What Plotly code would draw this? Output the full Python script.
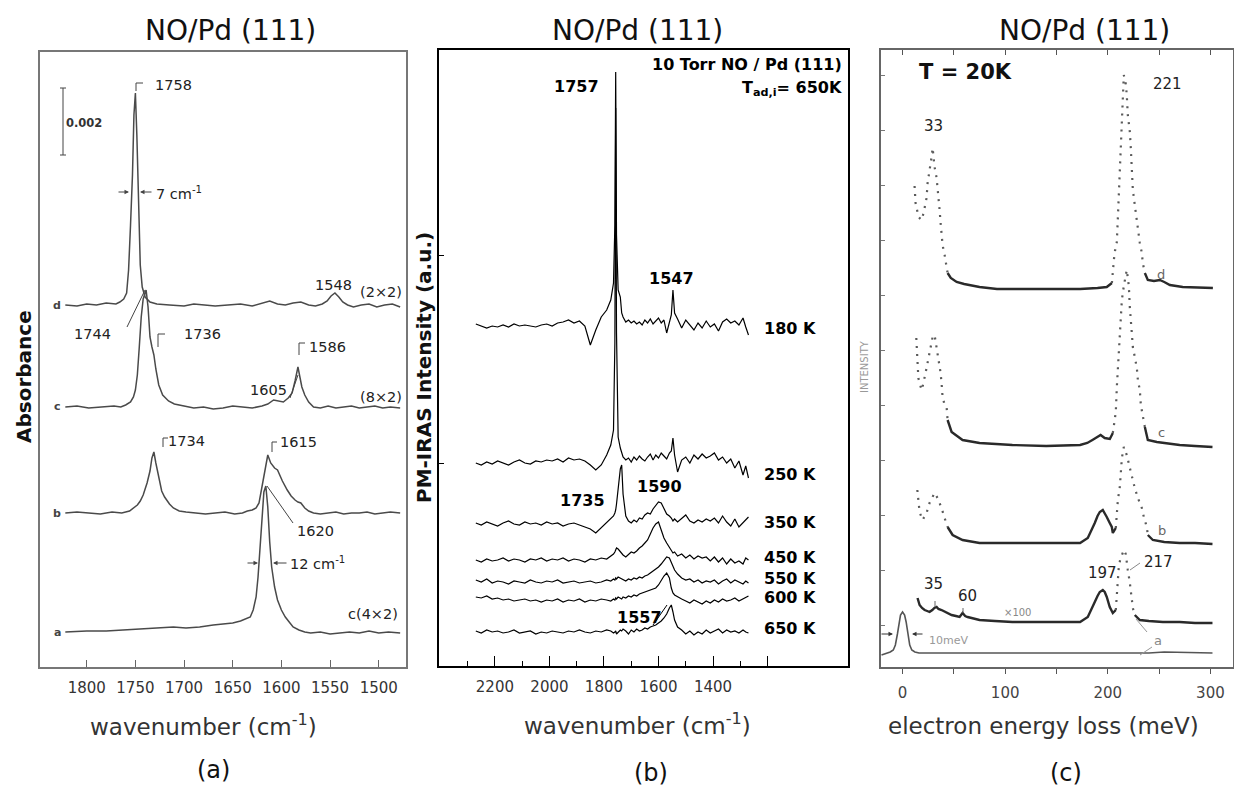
import plotly.graph_objects as go

W, H = 1234, 788
FONT = "DejaVu Sans"

# ================= DATA =================
# ---- Panel (a): IRAS absorbance (arb. units) vs wavenumber (cm-1)
a_d_wn = [1822, 1810, 1800, 1790, 1780, 1770, 1766, 1762, 1759, 1757, 1755, 1753, 1751.5, 1750, 1748.5,
          1747, 1745, 1743, 1740, 1735, 1728, 1715, 1700, 1690, 1680, 1668, 1655, 1642, 1630, 1620,
          1612, 1604, 1596, 1588, 1580, 1572, 1565, 1558, 1553, 1549, 1545, 1541, 1537, 1532, 1526,
          1518, 1510, 1502, 1494, 1486, 1478]
a_d_abs = [0, -1, 1, 0, 2, 1, 3, 6, 12, 35, 80, 130, 190, 212, 170,
           100, 40, 18, 8, 3, 1, 0, -1, 1, 0, -1, 0, 1, -1, 2,
           4, 1, 0, 2, 3, 0, -1, 1, 4, 9, 12, 8, 3, 0, -2,
           0, 1, -2, 0, 1, -2]

a_c_wn = [1822, 1810, 1798, 1785, 1772, 1765, 1760, 1755, 1752, 1750, 1748, 1746, 1744, 1742, 1740,
          1739, 1737, 1735, 1733, 1731, 1729, 1726, 1722, 1716, 1710, 1700, 1690, 1680, 1670, 1660,
          1650, 1640, 1630, 1620, 1614, 1608, 1603, 1598, 1593, 1589, 1586, 1584, 1583, 1581, 1579,
          1576, 1572, 1567, 1560, 1552, 1544, 1536, 1528, 1520, 1512, 1504, 1496, 1488, 1478]
a_c_abs = [0, 1, -1, 0, 1, 0, 2, 5, 10, 17, 32, 60, 90, 108, 116,
           117, 100, 70, 60, 52, 38, 22, 12, 6, 3, 1, -1, 0, -2, -1,
           1, 0, -1, 1, 3, 7, 6, 5, 9, 14, 26, 37, 40, 30, 20,
           12, 5, 0, -1, 1, -1, 0, 1, -1, 0, 1, -1, 0, -1]

a_b_wn = [1822, 1810, 1798, 1786, 1774, 1764, 1756, 1752, 1748, 1745, 1742, 1738, 1735, 1733, 1731,
          1729, 1726, 1723, 1720, 1715, 1711, 1705, 1698, 1688, 1678, 1668, 1658, 1648, 1640, 1635,
          1630, 1626, 1623, 1620, 1617, 1614, 1611, 1607, 1604, 1599, 1594, 1590, 1586, 1583, 1580,
          1576, 1572, 1567, 1560, 1552, 1544, 1536, 1528, 1520, 1512, 1504, 1496, 1488, 1478]
a_b_abs = [0, 1, 0, -1, 1, 0, 2, 5, 8, 12, 18, 30, 42, 55, 61,
           50, 36, 22, 16, 9, 5, 2, 1, 0, -1, 0, 1, -1, 0, 2,
           3, 5, 10, 26, 44, 58, 50, 45, 43, 32, 23, 17, 13, 11, 10,
           5, 2, 0, -1, 0, 1, -1, 0, 0, 1, -1, 0, 1, 0]

a_a_wn = [1822, 1800, 1780, 1760, 1740, 1725, 1711, 1698, 1684, 1670, 1660, 1650, 1642, 1636, 1632,
          1629, 1626, 1624, 1622, 1620, 1618, 1616, 1614, 1612, 1610, 1607, 1604, 1600, 1596, 1592,
          1588, 1582, 1576, 1570, 1560, 1550, 1540, 1530, 1520, 1510, 1500, 1490, 1478]
a_a_abs = [0, 1, 1, 2, 3, 4, 5, 4, 5, 7, 8, 9, 11, 13, 15,
           22, 35, 55, 85, 118, 140, 146, 125, 90, 65, 45, 32, 22, 15, 10,
           5, 2, 0, -1, 0, -2, -1, 0, -1, 1, -1, 0, -1]

a_ticks = [1800, 1750, 1700, 1650, 1600, 1550, 1500]

# ---- Panel (b): PM-IRAS intensity (a.u.) vs wavenumber (cm-1)
b_wn = [2270, 2250, 2230, 2210, 2190, 2170, 2150, 2130, 2110, 2090, 2070, 2050, 2030, 2010, 1990,
        1970, 1950, 1930, 1910, 1890, 1870, 1850, 1830, 1810, 1790, 1775, 1765, 1760, 1757, 1754,
        1748, 1740, 1735, 1730, 1720, 1710, 1700, 1690, 1680, 1670, 1660, 1650, 1640, 1630, 1620,
        1610, 1600, 1590, 1580, 1570, 1560, 1553, 1547, 1541, 1530, 1515, 1500, 1485, 1470, 1455,
        1440, 1425, 1410, 1395, 1380, 1365, 1350, 1335, 1320, 1305, 1290, 1280, 1270]
b_180K = [1, -1, -3, -1, -2, 0, -2, 1, -1, 0, -1, -2, 0, 1, -1,
          2, 3, 5, 2, 4, -1, -20, -5, 8, 15, 25, 42, 100, 253, 90,
          35, 28, 12, 8, 3, 5, 2, 4, 1, 3, 0, 5, 2, 6, 1,
          4, 7, 2, 5, -8, 3, 10, 35, 12, 6, -3, 5, 0, -5, 2,
          -3, 4, -2, 1, -6, 3, 6, 2, 4, 0, 7, -2, -10]
b_250K = [0, -2, 1, -1, 2, 0, -2, 1, 3, 0, -1, 2, 1, 3, 2,
          4, 1, 5, 3, 4, 2, -2, -7, -2, 8, 18, 33, 120, 355, 130,
          26, 15, 11, 6, 3, 5, 1, 6, 3, 7, 4, 2, 6, 9, 3,
          8, 5, 10, 7, 4, 10, 12, 25, 8, -9, 3, 6, 0, 8, 4,
          9, 5, 7, 10, 3, 6, 0, 4, -5, 2, -12, -3, -15]
b_350K = [1, -1, 2, 0, -2, 1, 3, 0, -1, 2, 0, 1, -1, 2, 0,
          1, -2, 0, 1, -1, -3, -5, -9, -4, 1, 5, 8, 11, 14, 20,
          35, 55, 59, 30, 8, 3, 1, 4, 2, 6, 5, 9, 11, 10, 15,
          19, 22, 21, 15, 10, 8, 6, 3, 5, 2, 6, 9, 3, 1, 4,
          2, 5, 3, 6, 1, 8, 2, -2, 5, -3, 1, 4, 7]
b_450K = [0, -2, 1, -1, 0, 2, -1, 1, 0, -2, 1, 0, 2, -1, 1,
          0, 2, -1, 1, 0, -2, 1, 0, 2, 1, 4, 6, 8, 10, 12,
          11, 8, 6, 5, 3, 6, 8, 7, 9, 12, 14, 17, 20, 26, 32,
          36, 38, 30, 22, 17, 12, 9, 7, 8, 4, 6, 2, 5, 1, 4,
          2, 3, -1, 3, -2, 2, -4, 1, -3, -1, -4, 2, 0]
b_550K = [2, 0, 3, -1, 1, 0, -2, 1, 0, -1, 2, 0, -1, 1, 0,
          2, -1, 0, 1, -1, 0, 1, -1, 0, 2, 1, 3, 2, 4, 3,
          5, 4, 3, 2, 1, 3, 2, 4, 3, 5, 4, 6, 7, 9, 11,
          13, 15, 18, 22, 25, 24, 19, 15, 12, 8, 4, 2, 3, 0, 2,
          -1, 1, 0, 2, -2, 1, 3, -1, 2, 0, -2, 1, -1]
b_600K = [3, 2, 4, 1, 2, 0, 1, -1, 0, 1, -1, 0, -2, 0, -1,
          1, -2, 0, -1, 1, -2, 0, -1, 1, 0, -1, 1, 0, 2, 1,
          3, 2, 1, 3, 2, 4, 3, 5, 4, 6, 7, 8, 9, 10, 11,
          12, 15, 20, 24, 27, 22, 12, 7, 5, 3, 1, -1, -3, 0, -2,
          -4, -1, -3, 0, -2, 1, -1, 0, 2, -1, 1, 3, 4]
b_650K = [1, -1, 2, 0, 1, -1, 0, 2, -1, 0, 1, -2, 0, -1, 1,
          0, -1, 1, 0, 2, 0, -1, 1, 0, 2, 1, -1, 0, 1, -2,
          0, 2, 1, 3, 1, -2, 2, 0, 3, 1, 2, 4, 3, 5, 6,
          7, 9, 11, 14, 18, 24, 27, 20, 12, 5, 2, -2, 1, -3, 0,
          -2, 2, -1, 1, 3, -1, 2, 0, 1, -1, 2, 0, -1]
b_labels = ["180 K", "250 K", "350 K", "450 K", "550 K", "600 K", "650 K"]
b_series = [b_180K, b_250K, b_350K, b_450K, b_550K, b_600K, b_650K]
b_ticks = [2200, 2000, 1800, 1600, 1400, 1200]
b_ticktext = ["2200", "2000", "1800", "1600", "1400", ""]
b_minor = [2300, 2100, 1900, 1700, 1500, 1300]

# ---- Panel (c): HREELS intensity vs electron energy loss (meV)
c_d_e = [11.7, 12.7, 15.6, 18.5, 20.5, 23.4, 24.4, 26.3, 28.3, 29.3, 31.2, 33.2, 35.1, 36.1, 37.1,
         38.0, 39.0, 41.0, 42.0, 43.9, 47, 52.7, 60, 75, 92, 120, 150, 173, 190, 199,
         204, 205, 206, 207, 208.8, 209.8, 210.7, 211.7, 212.7, 213.7, 214.6, 215.6, 217.5, 218.5, 219.5,
         221.5, 222.4, 223.4, 224.4, 226.3, 227.3, 229.3, 231.2, 233.2, 234.1, 236.1, 239, 245, 250.7, 255,
         260.5, 273, 290, 302.4]
c_d_i = [103, 86, 72, 69, 76, 91, 106, 117, 132, 141, 122, 111, 94, 79, 66,
         56, 44, 34, 26, 16, 11, 7, 5, 2, 0, 0, 0, 0, 1, 2,
         6, 21, 30, 38, 47, 71, 94, 119, 152, 176, 194, 214, 205, 194, 174,
         157, 141, 116, 99, 84, 76, 59, 46, 36, 26, 16, 9, 8, 9, 7,
         4, 2, 1, 1]
c_c_e = [13.4, 14.4, 15.4, 18.5, 19.5, 23.4, 25.4, 27.3, 29.3, 31.2, 33.2, 35.1, 37.1, 38.0, 39.0,
         41.0, 43.0, 43.9, 47.8, 58.5, 75, 107, 140, 173, 180, 185, 190, 193, 197, 202,
         204.9, 207.8, 208.8, 209.8, 210.7, 211.7, 213.7, 215.6, 216.6, 218.5, 220.5, 221.5, 223.4, 224.4, 226.3,
         228.3, 229.3, 231.2, 232.2, 234.1, 236.1, 239, 247.8, 260, 270, 285, 302]
c_c_i = [108, 84, 68, 56, 59, 78, 88, 98, 109, 111, 99, 86, 73, 63, 49,
         41, 38, 26, 14, 6, 3, 1, 0, 1, 3, 6, 9, 11, 8, 7,
         13, 34, 59, 79, 98, 114, 146, 160, 166, 176, 160, 138, 113, 99, 89,
         78, 66, 56, 41, 29, 19, 6, 4, 2, 1, 0, -1]
c_b_e = [14.4, 16.6, 19.5, 23.4, 26.3, 29.3, 31.2, 34.1, 38.0, 41.0, 43.9, 48.8, 58.5, 75, 110,
         150, 173, 180.5, 184, 187.3, 190, 192.2, 195.1, 197, 199, 201.9, 203.9, 204.9, 206, 207.8,
         208.8, 209.8, 211.7, 213.7, 215.6, 218.5, 221.5, 224.4, 226.3, 229.3, 233.2, 235.1, 238, 239, 243.9,
         255, 270, 285, 302]
c_b_i = [53, 31, 23, 30, 40, 46, 50, 45, 35, 25, 16, 8, 3, 0, 0,
         0, 0, 5, 12, 20, 27, 31, 33, 30, 26, 20, 16, 10, 12, 15,
         30, 43, 56, 85, 96, 88, 75, 61, 55, 45, 35, 26, 16, 8, 3,
         1, 0, 0, -1]
c_a100_e = [14.6, 16.6, 19, 21.5, 24, 26.3, 29, 31, 33.2, 35, 38, 42, 47.8, 52, 55.6,
            58.5, 61, 63.4, 68, 75, 90, 107, 140, 173, 180.5, 184, 187.3, 190, 192.2, 195.1,
            197, 199, 201.9, 204.9, 206, 207.8, 208.8, 209.8, 210.7, 212, 213.7, 215.6, 217.5, 218.5, 219.5,
            221.5, 223.4, 224.4, 226.3, 231.2, 240, 253.7, 270, 285, 302]
c_a100_i = [24, 17, 14, 12, 11, 10, 12, 14, 15, 13, 12, 10, 7, 6, 5,
            9, 6, 5, 4, 2, 1, 0, 0, 0, 5, 12, 20, 26, 30, 32,
            30, 25, 15, 9, 10, 12, 25, 42, 55, 62, 67, 72, 68, 62, 52,
            39, 25, 14, 7, 2, 1, 0, 0, -1, -1]
c_a1_e = [-20.5, -15, -12, -9, -7, -5, -3.5, -2, 0, 2, 3.5, 5, 7, 9, 12, 16, 25, 50, 100, 150, 200, 240, 255, 302]
c_a1_i = [-2, 0, 1, 3, 8, 19, 31, 38, 41, 38, 31, 19, 8, 3, 1, 0, 0, 0, 0, 0, 0, 0, 1, 0]
c_ticks = [0, 100, 200, 300]
c_minor = [50, 150, 250]

# ================= STYLE / LAYOUT PARAMETERS =================
a_offsets = {"d": 362, "c": 260, "b": 154, "a": 35}
b_offsets = [341, 203, 142, 106, 84, 66, 34]
c_offsets = {"d": 378, "c": 221, "b": 124, "a100": 45, "a1": 14}
c_dotted = {"d": [(11, 44.5), (204, 237)], "c": [(12, 44.5), (205, 237)],
            "b": [(13, 44.5), (207.5, 239.5)], "a100": [(207.5, 227)], "a1": []}


def dom_x(p0, p1):
    return [p0 / W, p1 / W]


def dom_y(top, bottom):
    return [1 - bottom / H, 1 - top / H]


def split_runs(xs, ys, ranges):
    def dotted(a, b):
        m = (a + b) / 2
        return any(lo <= m <= hi for lo, hi in ranges)
    sx, sy, dx, dy = [], [], [], []
    cur = None
    for i in range(len(xs) - 1):
        st = dotted(xs[i], xs[i + 1])
        tx, ty = (dx, dy) if st else (sx, sy)
        if st != cur:
            if tx:
                tx.append(None)
                ty.append(None)
            tx.append(xs[i])
            ty.append(ys[i])
            cur = st
        tx.append(xs[i + 1])
        ty.append(ys[i + 1])
    return sx, sy, dx, dy


fig = go.Figure()

# ---- panel (a) traces
for key, wn, ab in [("d", a_d_wn, a_d_abs), ("c", a_c_wn, a_c_abs),
                    ("b", a_b_wn, a_b_abs), ("a", a_a_wn, a_a_abs)]:
    fig.add_trace(go.Scatter(x=wn, y=[v + a_offsets[key] for v in ab], mode="lines",
                             line=dict(color="#4a4a4a", width=1.5), xaxis="x", yaxis="y",
                             showlegend=False, hoverinfo="skip"))

# ---- panel (b) traces
for lab, ser, off in zip(b_labels, b_series, b_offsets):
    fig.add_trace(go.Scatter(x=b_wn, y=[v + off for v in ser], mode="lines",
                             line=dict(color="#000", width=1.2), xaxis="x2", yaxis="y2",
                             showlegend=False, hoverinfo="skip"))

# ---- panel (c) traces
for key, e, iv in [("d", c_d_e, c_d_i), ("c", c_c_e, c_c_i), ("b", c_b_e, c_b_i),
                   ("a100", c_a100_e, c_a100_i), ("a1", c_a1_e, c_a1_i)]:
    yy = [v + c_offsets[key] for v in iv]
    sx, sy, dx, dy = split_runs(e, yy, c_dotted[key])
    w = 1.6 if key == "a1" else 2.4
    col = "#555" if key == "a1" else "#2a2a2a"
    if sx:
        fig.add_trace(go.Scatter(x=sx, y=sy, mode="lines", line=dict(color=col, width=w),
                                 xaxis="x3", yaxis="y3", showlegend=False, hoverinfo="skip"))
    if dx:
        fig.add_trace(go.Scatter(x=dx, y=dy, mode="lines",
                                 line=dict(color="#5a5a5a", width=2.2, dash="2px,6px"),
                                 xaxis="x3", yaxis="y3", showlegend=False, hoverinfo="skip"))
# helper trace so the top tick axis of panel (c) is drawn
fig.add_trace(go.Scatter(x=[], y=[], xaxis="x4", yaxis="y3", showlegend=False, hoverinfo="skip"))

tickfont = dict(family=FONT, size=15, color="#333")

fig.update_layout(
    width=W, height=H, margin=dict(l=0, r=0, t=0, b=0),
    paper_bgcolor="white", plot_bgcolor="white", showlegend=False,
    xaxis=dict(domain=dom_x(40, 406), range=[1848, 1472], tickvals=a_ticks, ticks="inside",
               ticklen=7, tickcolor="#666", showline=True, linecolor="#777", linewidth=1.5,
               mirror=True, showgrid=False, zeroline=False, tickfont=tickfont,
               ticklabelstandoff=6, anchor="y"),
    yaxis=dict(domain=dom_y(52, 667), range=[0, 615], showticklabels=False, ticks="",
               showline=True, linecolor="#777", linewidth=1.5, mirror=True, showgrid=False,
               zeroline=False, anchor="x"),
    xaxis2=dict(domain=dom_x(439, 848), range=[2405, 905], tickvals=b_ticks, ticktext=b_ticktext,
                ticks="inside", ticklen=10, tickcolor="#000", tickwidth=1.2,
                minor=dict(tickvals=b_minor, ticks="inside", ticklen=5, tickcolor="#000"),
                showline=True, linecolor="#000", linewidth=1.5, mirror=True, showgrid=False,
                zeroline=False, tickfont=tickfont, ticklabelstandoff=6, anchor="y2"),
    yaxis2=dict(domain=dom_y(50, 666), range=[0, 616], tickvals=[203, 411], ticks="inside",
                ticklen=5, tickcolor="#000", showticklabels=False, showline=True,
                linecolor="#000", linewidth=1.5, mirror=True, showgrid=False, zeroline=False,
                anchor="x2"),
    xaxis3=dict(domain=dom_x(881, 1233), range=[-21, 322], tickvals=c_ticks, ticks="outside",
                ticklen=5, tickcolor="#555",
                minor=dict(tickvals=c_minor, ticks="outside", ticklen=5, tickcolor="#555"),
                showline=True, linecolor="#666", linewidth=1.5, mirror=True, showgrid=False,
                zeroline=False, tickfont=dict(family=FONT, size=15, color="#444"),
                ticklabelstandoff=6, anchor="y3"),
    xaxis4=dict(overlaying="x3", side="top", range=[-21, 322], tickvals=c_ticks + c_minor,
                ticks="inside", ticklen=5, tickcolor="#555", showticklabels=False,
                showline=False, showgrid=False, zeroline=False, anchor="y3"),
    yaxis3=dict(domain=dom_y(50, 667), range=[0, 617], tick0=42, dtick=55, ticks="inside",
                ticklen=4, tickcolor="#777", showticklabels=False, showline=True,
                linecolor="#666", linewidth=1.5, mirror=True, showgrid=False, zeroline=False,
                anchor="x3"),
)

ann = []
shapes = []


def txt(px, py, s, size=14.5, color="#222", bold=False, xanchor="center", angle=0):
    ann.append(dict(x=px / W, y=1 - py / H, xref="paper", yref="paper",
                    text=f"<b>{s}</b>" if bold else s, showarrow=False,
                    font=dict(family=FONT, size=size, color=color),
                    xanchor=xanchor, yanchor="middle", textangle=angle))


def seg(pts, color="#444", width=1):
    path = "M " + " L ".join(f"{x / W},{1 - y / H}" for x, y in pts)
    shapes.append(dict(type="path", path=path, xref="paper", yref="paper",
                       line=dict(color=color, width=width)))


def arrow(hx, hy, tx, color="#444"):
    ann.append(dict(x=hx / W, y=1 - hy / H, xref="paper", yref="paper", text="",
                    showarrow=True, ax=tx - hx, ay=0, arrowhead=2, arrowsize=0.9,
                    arrowwidth=1, arrowcolor=color, standoff=0, startstandoff=0))


# titles
for cx in (230, 637, 1084):
    txt(cx, 30, "NO/Pd (111)", size=28, color="#111")
txt(203, 725, "wavenumber (cm<sup>-1</sup>)", size=23, color="#333")
txt(637, 724, "wavenumber (cm<sup>-1</sup>)", size=23, color="#333")
txt(1043, 726, "electron energy loss (meV)", size=23, color="#333")
txt(213, 770, "(a)", size=24, color="#111")
txt(651, 773, "(b)", size=24, color="#111")
txt(1066, 773, "(c)", size=24, color="#111")
txt(24, 377, "Absorbance", size=20, bold=True, color="#111", angle=-90)
txt(424, 368, "PM-IRAS Intensity (a.u.)", size=20, bold=True, color="#111", angle=-90)
txt(864, 367, "INTENSITY", size=10, color="#999", angle=-90)

# panel (a) labels
txt(174, 85, "1758")
txt(84, 123, "0.002", size=11.5, bold=True, color="#333")
txt(179, 193, "7 cm<sup>-1</sup>")
txt(333, 285, "1548")
txt(381, 292, "(2×2)")
txt(57, 305, "d", size=11, bold=True, color="#444")
txt(92, 334, "1744")
txt(202, 334, "1736")
txt(327, 347, "1586")
txt(268, 390, "1605")
txt(381, 397, "(8×2)")
txt(57, 406, "c", size=11, bold=True, color="#444")
txt(186, 441, "1734")
txt(298, 442, "1615")
txt(57, 513, "b", size=11, bold=True, color="#444")
txt(315, 531, "1620")
txt(318, 563, "12 cm<sup>-1</sup>")
txt(373, 614, "c(4×2)")
txt(57, 632, "a", size=11, bold=True, color="#444")
seg([(63, 88), (63, 155)])
seg([(60, 88), (66, 88)])
seg([(60, 155), (66, 155)])
seg([(136, 91), (136, 83), (143, 83)])
seg([(127, 327), (145, 290)])
seg([(158, 347), (158, 334), (165, 334)])
seg([(299, 355), (299, 343), (305, 343)])
seg([(290, 398), (298, 375)])
seg([(163, 447), (163, 438), (168, 438)])
seg([(272, 452), (272, 442), (277, 442)])
seg([(267, 486), (293, 523)])
arrow(129, 192, 117)
arrow(140, 192, 153)
arrow(258, 563, 246)
arrow(273, 563, 288)

# panel (b) labels
txt(844, 64, "10 Torr NO / Pd (111)", size=16, bold=True, color="#000", xanchor="right")
txt(844, 88, "T<sub>ad,i</sub>= 650K", size=16, bold=True, color="#000", xanchor="right")
txt(576, 87, "1757", size=16, bold=True, color="#000")
txt(672, 278, "1547", size=16, bold=True, color="#000")
txt(582, 500, "1735", size=16, bold=True, color="#000")
txt(660, 486, "1590", size=16, bold=True, color="#000")
txt(639, 617, "1557", size=16, bold=True, color="#000")
seg([(653, 625), (667, 605)], color="#000")
for lab, py in zip(b_labels, [329, 474, 522, 557, 578, 597, 628]):
    txt(762, py, lab, size=16, bold=True, color="#000", xanchor="left")

# panel (c) labels
txt(965, 72, "T = 20K", size=21, bold=True, color="#111")
txt(933, 126, "33", size=15)
txt(1167, 84, "221", size=15)
txt(1161, 274, "d", size=13, color="#666")
txt(1161, 432, "c", size=13, color="#666")
txt(1162, 530, "b", size=13, color="#666")
txt(1158, 562, "217", size=15)
txt(1102, 573, "197", size=15)
txt(933, 584, "35", size=15)
txt(967, 596, "60", size=15)
txt(1017, 612, "×100", size=10, color="#888")
txt(948, 640, "10meV", size=11, color="#999")
txt(1158, 640, "a", size=13, color="#888")
seg([(1130, 570), (1140, 563)], color="#888")
seg([(935, 601), (935, 607)], color="#666")
seg([(963, 608), (963, 613)], color="#666")
seg([(1147, 632), (1136, 619)], color="#999")
seg([(1152, 647), (1140, 655)], color="#999")
arrow(893, 634, 880, color="#333")
arrow(912, 634, 924, color="#333")

fig.update_layout(annotations=ann, shapes=shapes)
fig.write_html("out.html", config={"displayModeBar": False},
               post_script="document.body.style.margin='0';document.body.style.overflow='hidden';")
